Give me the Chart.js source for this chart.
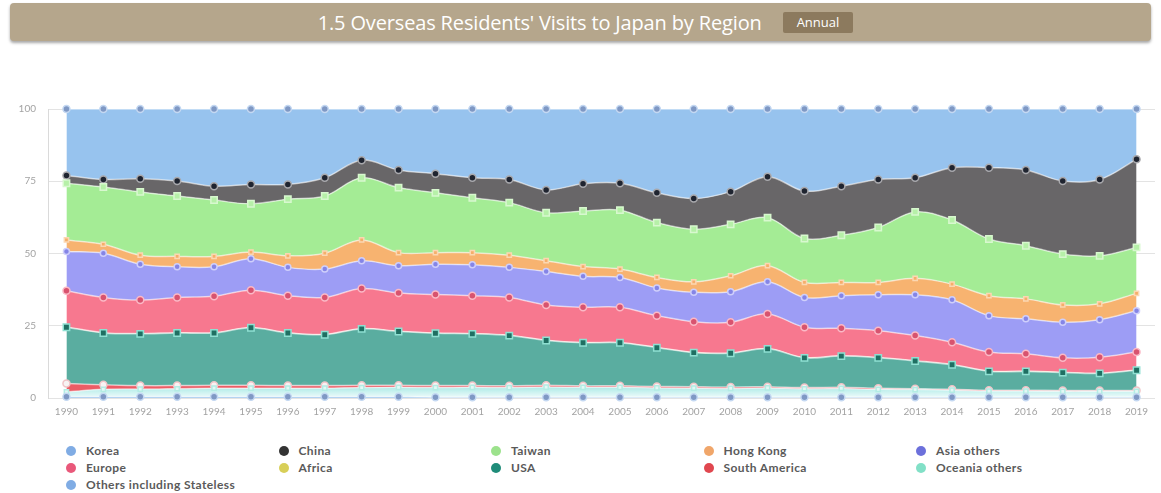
<!DOCTYPE html>
<html>
<head>
<meta charset="utf-8">
<title>Overseas Residents' Visits to Japan by Region</title>
<script src="https://cdn.jsdelivr.net/npm/chart.js@4.4.1/dist/chart.umd.min.js"></script>
<style>
  html, body { margin: 0; padding: 0; background: #fff; width: 1161px; height: 493px; overflow: hidden; }
  #bar {
    position: absolute; left: 10px; top: 3px; width: 1141px; height: 38px; box-sizing: border-box; padding-left: 10px;
    background: #b5a68c; border-radius: 4px; box-shadow: 0 2px 3px rgba(0,0,0,0.35);
    display: flex; align-items: center; justify-content: center;
  }
  #title { color: #fff; font-family: 'Open Sans', sans-serif; font-size: 20px; letter-spacing: -0.15px; }
  #badge {
    margin-left: 21px; background: #8c7a5e; color: #fff; font-family: 'Open Sans', sans-serif;
    font-size: 13px; line-height: 15px; padding: 3px 14px; border-radius: 2px;
  }
  #wrap { position: absolute; left: 0; top: 91px; width: 1161px; height: 331px; }
  #legend {
    position: absolute; left: 66px; top: 442px;
    display: grid; grid-template-columns: repeat(5, 212.5px); grid-auto-rows: 17px;
    font-family: Lato, 'Open Sans', sans-serif; font-weight: 700; font-size: 12px;
    letter-spacing: 0.4px; color: #5a5a5a;
  }
  .item { display: flex; align-items: center; white-space: nowrap; }
  .dot { width: 10px; height: 10px; border-radius: 50%; margin-right: 10px; flex: none; }
</style>
</head>
<body>
<div id="bar"><span id="title">1.5 Overseas Residents' Visits to Japan by Region</span><span id="badge">Annual</span></div>
<div id="wrap"><canvas id="chart"></canvas></div>
<div id="legend"></div>
<script>
// Share of visitors by region, percent of the yearly total
const years = ['1990','1991','1992','1993','1994','1995','1996','1997','1998','1999',
               '2000','2001','2002','2003','2004','2005','2006','2007','2008','2009',
               '2010','2011','2012','2013','2014','2015','2016','2017','2018','2019'];

const korea        = [23.0,24.4,24.1,24.9,26.7,26.1,26.1,23.8,17.7,21.1,22.4,23.8,24.4,28.0,25.9,25.7,29.0,31.0,28.6,23.4,28.4,26.7,24.4,23.8,20.3,20.3,21.1,24.9,24.4,17.4];
const china        = [2.7,2.6,4.6,5.2,4.8,6.7,5.1,6.3,6.1,6.1,6.6,6.9,8.0,7.9,9.4,9.3,10.3,10.6,11.3,14.2,16.4,17.0,16.6,11.8,18.1,24.7,26.2,25.3,26.4,30.5];
const taiwan       = [19.6,19.8,21.9,20.9,19.5,16.7,19.6,19.8,21.5,22.5,20.7,19.0,18.2,16.6,19.2,20.4,19.0,18.2,17.8,16.6,15.2,16.3,19.0,23.0,22.2,19.6,18.4,17.6,16.6,15.9];
const hongKong     = [4.0,3.1,3.1,3.6,3.6,2.3,4.0,5.5,7.2,4.5,4.0,4.2,4.2,3.7,3.4,2.9,3.6,3.6,5.5,5.6,5.2,4.6,4.3,5.7,5.4,6.9,6.9,6.0,5.5,6.0];
const asiaOthers   = [13.6,15.3,12.4,10.6,10.2,10.9,9.8,9.8,9.6,9.5,10.5,10.7,10.4,11.6,10.7,10.3,9.6,10.2,10.6,11.1,10.3,11.3,12.4,14.1,14.7,12.6,12.1,12.3,13.0,14.3];
const europe       = [12.5,12.2,11.6,12.2,12.6,12.9,12.8,12.8,13.9,13.2,13.3,13.1,13.1,12.2,12.2,12.2,11.0,10.6,10.6,12.0,10.5,9.5,9.3,8.7,7.7,6.6,6.0,5.0,5.5,6.2];
const africa       = [0.1,0.1,0.1,0.1,0.1,0.1,0.1,0.1,0.1,0.1,0.1,0.1,0.1,0.1,0.1,0.1,0.1,0.1,0.1,0.1,0.1,0.1,0.1,0.1,0.1,0.1,0.1,0.1,0.1,0.1];
const usa          = [19.5,17.9,17.9,18.2,18.1,19.9,18.2,17.6,19.5,18.6,18.1,17.9,17.4,15.5,14.9,14.9,13.4,11.8,11.7,13.1,10.3,10.8,10.5,9.6,8.5,6.5,6.5,6.2,5.9,7.0];
const southAmerica = [2.9,1.6,1.2,1.1,1.0,1.0,0.9,0.9,0.8,0.7,0.7,0.6,0.6,0.6,0.5,0.5,0.5,0.5,0.5,0.4,0.4,0.4,0.4,0.3,0.3,0.3,0.3,0.3,0.3,0.3];
const oceania      = [1.7,2.6,2.7,2.8,3.0,3.0,3.0,3.0,3.2,3.3,3.3,3.4,3.3,3.5,3.4,3.4,3.2,3.1,3.0,3.2,2.9,3.0,2.7,2.6,2.4,2.1,2.1,2.0,2.0,2.0];
const others       = [0.4,0.4,0.4,0.4,0.4,0.4,0.4,0.4,0.4,0.4,0.3,0.3,0.3,0.3,0.3,0.3,0.3,0.3,0.3,0.3,0.3,0.3,0.3,0.3,0.3,0.3,0.3,0.3,0.3,0.3];

const yTickValues = [0, 25, 50, 75, 100];

// Legend order; the stack is built from the last entry upwards
const series = [
  { name: 'Korea', data: korea },
  { name: 'China', data: china },
  { name: 'Taiwan', data: taiwan },
  { name: 'Hong Kong', data: hongKong },
  { name: 'Asia others', data: asiaOthers },
  { name: 'Europe', data: europe },
  { name: 'Africa', data: africa },
  { name: 'USA', data: usa },
  { name: 'South America', data: southAmerica },
  { name: 'Oceania others', data: oceania },
  { name: 'Others including Stateless', data: others }
];

const styles = {
  'Korea':          { area: '#97c3ee', dot: '#80ace4', pt: '#7f98c4', ptBorder: '#c4d8f2', shape: 'circle', r: 3.5 },
  'China':          { area: '#686668', dot: '#333333', pt: '#1f2430', ptBorder: '#a9a9ad', shape: 'circle', r: 3.5 },
  'Taiwan':         { area: '#a4ec95', dot: '#9ce28c', pt: '#b6f0a8', ptBorder: '#d8f8cf', shape: 'rect',   r: 4.5 },
  'Hong Kong':      { area: '#f7b370', dot: '#f0a66a', pt: '#f5ae6a', ptBorder: '#fbd7b2', shape: 'rect',   r: 3 },
  'Asia others':    { area: '#9d9df5', dot: '#6c70db', pt: '#8585e6', ptBorder: '#cfcffb', shape: 'circle', r: 3 },
  'Europe':         { area: '#f7788f', dot: '#e9587a', pt: '#d8536f', ptBorder: '#fbb9c6', shape: 'circle', r: 3.5 },
  'Africa':         { area: '#e2d45e', dot: '#d8cf58', pt: '#e2d45e', ptBorder: '#e2d45e', shape: 'circle', r: 0 },
  'USA':            { area: '#5aada0', dot: '#1f8c79', pt: '#1f6f62', ptBorder: '#8fe0d2', shape: 'rect',   r: 4.5 },
  'South America':  { area: '#ec5d66', dot: '#e0474f', pt: '#f7f3f3', ptBorder: '#f0c4c7', shape: 'circle', r: 3.5 },
  'Oceania others': { area: '#c3f0ef', dot: '#82e0c7', pt: '#e2f8f5', ptBorder: '#b3ece4', shape: 'rect',   r: 3 },
  'Others including Stateless': { area: '#97c3ee', dot: '#80ace4', pt: '#7f98c4', ptBorder: '#c4d8f2', shape: 'circle', r: 3.5 }
};

// Oceania band fades towards the baseline
function oceaniaFill(ctx) {
  const chart = ctx.chart;
  const area = chart.chartArea;
  if (!area) return styles['Oceania others'].area;
  const y = chart.scales.y;
  const g = chart.ctx.createLinearGradient(0, y.getPixelForValue(4), 0, y.getPixelForValue(0));
  g.addColorStop(0, '#a9e9e5');
  g.addColorStop(1, '#f1fcfc');
  return g;
}

const stacked = series.slice().reverse();
const datasets = stacked.map((s, i) => {
  const st = styles[s.name];
  return {
    label: s.name,
    data: s.data,
    fill: i === 0 ? 'origin' : '-1',
    backgroundColor: s.name === 'Oceania others' ? oceaniaFill : st.area,
    borderColor: 'rgba(255,255,255,0.55)',
    borderWidth: 1.5,
    tension: 0.35,
    pointStyle: st.shape,
    pointRadius: st.r,
    pointBackgroundColor: st.pt,
    pointBorderColor: st.ptBorder,
    pointBorderWidth: 1.5,
    clip: false
  };
});

new Chart(document.getElementById('chart'), {
  type: 'line',
  data: { labels: years, datasets },
  options: {
    responsive: true,
    maintainAspectRatio: false,
    animation: false,
    events: [],
    layout: { padding: { top: 7, right: 1.5, left: 0, bottom: 0 } },
    plugins: { legend: { display: false }, tooltip: { enabled: false } },
    scales: {
      x: {
        offset: true,
        grid: { display: false, drawTicks: false },
        border: { display: false },
        ticks: { padding: 8, color: '#a3a3a3', font: { family: 'Lato', size: 10 }, maxRotation: 0, autoSkip: false },
        afterFit(scale) { scale.height = 24; }
      },
      y: {
        stacked: true,
        min: 0,
        max: 100,
        afterBuildTicks(scale) { scale.ticks = yTickValues.map(v => ({ value: v })); },
        grid: { color: '#e3e3e3', drawTicks: false },
        border: { display: true, color: '#dadada' },
        ticks: { padding: 12, color: '#a3a3a3', font: { family: 'Lato', size: 10 } },
        afterFit(scale) { scale.width = 48; }
      }
    }
  }
});

// Legend grid, five columns
const legend = document.getElementById('legend');
series.forEach(s => {
  const item = document.createElement('div');
  item.className = 'item';
  const dot = document.createElement('span');
  dot.className = 'dot';
  dot.style.background = styles[s.name].dot;
  const txt = document.createElement('span');
  txt.textContent = s.name;
  item.appendChild(dot);
  item.appendChild(txt);
  legend.appendChild(item);
});
</script>
</body>
</html>
